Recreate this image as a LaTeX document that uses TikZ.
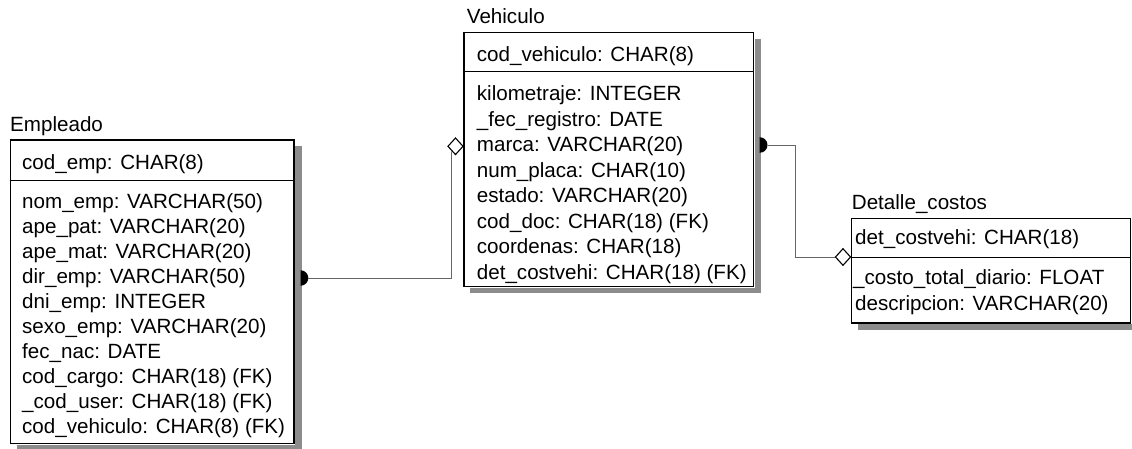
\documentclass[tikz,border=0pt]{standalone}
\usepackage{fontspec}
\setmainfont{Liberation Sans}
\usetikzlibrary{shapes.geometric}
\begin{document}
\begin{tikzpicture}[x=1pt,y=-1pt,
  tbl/.style={draw=black, line width=1.4pt, fill=white, inner sep=0pt, anchor=north west},
  shd/.style={fill=black!45},
  divl/.style={draw=black, line width=1.4pt},
  txt/.style={anchor=base west, inner sep=0pt, font=\fontsize{20.6}{24}\selectfont},
  rel/.style={draw=black!60, line width=0.7pt},
  dia/.style={diamond, draw=black, line width=1.1pt, fill=white, inner sep=0pt,
    minimum width=15.5pt, minimum height=17pt},
]
\useasboundingbox (0,0) rectangle (1132,449);

% ---------- Empleado ----------
\node[tbl, minimum width=283.8pt, minimum height=303.4pt] (emp) at (9.5,139.3) {};
\fill[shd] ([shift={(0.7pt,-7pt)}]emp.north east) rectangle ([shift={(7pt,-6pt)}]emp.south east);
\fill[shd] ([shift={(7pt,-0.7pt)}]emp.south west) rectangle ([shift={(7pt,-6pt)}]emp.south east);
\draw[divl] ([yshift=-41.4pt]emp.north west) -- ([yshift=-41.4pt]emp.north east);
\node[txt] (empT) at (10,131.7) {Empleado};
\node[txt] (empK) at (22,169.3) {cod\_emp: CHAR(8)};
\foreach \t [count=\i from 0] in {nom\_emp: VARCHAR(50), ape\_pat: VARCHAR(20),
  ape\_mat: VARCHAR(20), dir\_emp: VARCHAR(50), dni\_emp: INTEGER,
  sexo\_emp: VARCHAR(20), fec\_nac: DATE, cod\_cargo: CHAR(18) (FK),
  \_cod\_user: CHAR(18) (FK), cod\_vehiculo: CHAR(8) (FK)}
  \node[txt] (er\i) at (22,208.3+25.0*\i) {\t};

% ---------- Vehiculo ----------
\node[tbl, minimum width=289.4pt, minimum height=254.3pt] (veh) at (463.3,31.7) {};
\fill[shd] ([shift={(0.7pt,-7pt)}]veh.north east) rectangle ([shift={(7pt,-6pt)}]veh.south east);
\fill[shd] ([shift={(7pt,-0.7pt)}]veh.south west) rectangle ([shift={(7pt,-6pt)}]veh.south east);
\draw[divl] ([yshift=-40pt]veh.north west) -- ([yshift=-40pt]veh.north east);
\node[txt] (vehT) at (466.7,24) {Vehiculo};
\node[txt] (vehK) at (476.7,61.7) {cod\_vehiculo: CHAR(8)};
\foreach \t [count=\i from 0] in {kilometraje: INTEGER, \_fec\_registro: DATE,
  marca: VARCHAR(20), num\_placa: CHAR(10), estado: VARCHAR(20),
  cod\_doc: CHAR(18) (FK), coordenas: CHAR(18), det\_costvehi: CHAR(18) (FK)}
  \node[txt] (vr\i) at (476.7,100.7+25.5*\i) {\t};

% ---------- Detalle_costos ----------
\node[tbl, minimum width=279.3pt, minimum height=104.6pt] (det) at (850.7,217.7) {};
\fill[shd] ([shift={(0.7pt,-7pt)}]det.north east) rectangle ([shift={(7pt,-6pt)}]det.south east);
\fill[shd] ([shift={(7pt,-0.7pt)}]det.south west) rectangle ([shift={(7pt,-6pt)}]det.south east);
\draw[divl] ([yshift=-40pt]det.north west) -- ([yshift=-40pt]det.north east);
\node[txt] (detT) at (851.7,210) {Detalle\_costos};
\node[txt] (detK) at (855,244) {det\_costvehi: CHAR(18)};
\node[txt] (dr0) at (853,284) {\_costo\_total\_diario: FLOAT};
\node[txt] (dr1) at (855,310) {descripcion: VARCHAR(20)};

% ---------- relationship ends ----------
\fill[black] (300.5,270.2) arc[start angle=-90, end angle=90, radius=7.8] -- cycle;
\coordinate (s1) at (308.3,278);
\fill[black] (759.7,137.2) arc[start angle=-90, end angle=90, radius=7.8] -- cycle;
\coordinate (s2) at (767.5,145);
\coordinate (k2) at (795.5,200);

\draw[rel] (s1) -| (451.6,160) coordinate (k1);
\node[dia] (d1) at (455.5,146.3) {};
\node[dia] (d2) at (843,257) {};
\draw[rel] (k1) -- (d1.south west);
\draw[rel] (s2) -| (k2) |- (d2.west);
\end{tikzpicture}
\end{document}
